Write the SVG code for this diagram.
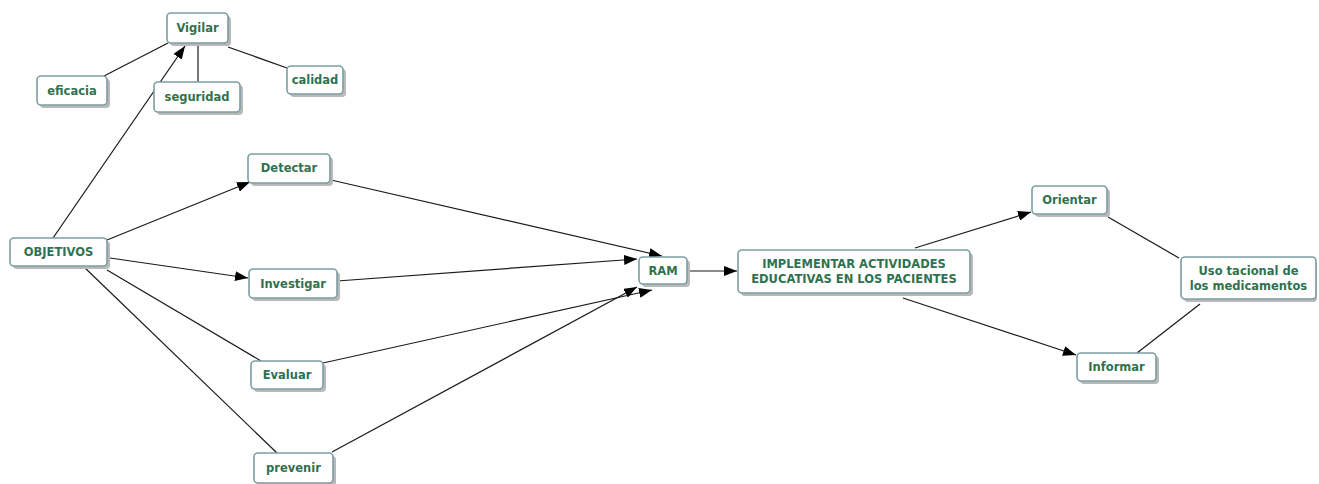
<svg xmlns="http://www.w3.org/2000/svg" width="1319" height="484" viewBox="0 0 1319 484">
<style>
.box{fill:#ffffff;stroke:#7c9ea3;stroke-width:1.6}
.sh{fill:#b9b9b9}
.t{font-family:"DejaVu Sans",Verdana,sans-serif;font-weight:bold;font-size:11.5px;fill:#2f7150;text-anchor:middle}
.c{stroke:#1a1a1a;stroke-width:1.2;fill:none}
.a{marker-end:url(#ah)}
</style>
<defs>
<marker id="ah" markerUnits="userSpaceOnUse" markerWidth="14" markerHeight="10" refX="13" refY="5" orient="auto">
<path d="M0,0 L13,5 L0,10 z" fill="#000"/>
</marker>
</defs>
<rect width="1319" height="484" fill="#ffffff"/>
<g id="connectors">
<line class="c" x1="104" y1="76" x2="168" y2="43"/>
<line class="c" x1="198" y1="43" x2="198" y2="82"/>
<line class="c" x1="228" y1="47" x2="287" y2="68"/>
<line class="c a" x1="53" y1="238" x2="185" y2="46"/>
<line class="c a" x1="107" y1="240" x2="250" y2="182"/>
<line class="c a" x1="110" y1="258" x2="248" y2="278"/>
<line class="c" x1="107" y1="270" x2="261" y2="361"/>
<line class="c" x1="83" y1="266" x2="277" y2="453"/>
<line class="c a" x1="331" y1="180" x2="662" y2="256"/>
<line class="c a" x1="337" y1="281" x2="637" y2="259"/>
<line class="c a" x1="323" y1="363" x2="652" y2="290"/>
<line class="c a" x1="332" y1="452" x2="637" y2="287"/>
<line class="c a" x1="687" y1="271" x2="737" y2="271"/>
<line class="c a" x1="915" y1="248" x2="1031" y2="212"/>
<line class="c a" x1="903" y1="298" x2="1076" y2="355"/>
<line class="c" x1="1108" y1="217" x2="1179" y2="258"/>
<line class="c" x1="1137" y1="353" x2="1200" y2="304"/>
</g>
<g id="vigilar"><rect class="sh" x="170" y="16" width="61" height="30" rx="4"/><rect class="box" x="167" y="13" width="61" height="30" rx="4"/><text class="t" x="197.5" y="32">Vigilar</text></g>
<g id="eficacia"><rect class="sh" x="40" y="79" width="70" height="29" rx="4"/><rect class="box" x="37" y="76" width="70" height="29" rx="4"/><text class="t" x="72" y="95">eficacia</text></g>
<g id="seguridad"><rect class="sh" x="157" y="85" width="86" height="30" rx="4"/><rect class="box" x="154" y="82" width="86" height="30" rx="4"/><text class="t" x="197" y="101">seguridad</text></g>
<g id="calidad"><rect class="sh" x="290" y="69" width="56" height="28" rx="4"/><rect class="box" x="287" y="66" width="56" height="28" rx="4"/><text class="t" x="315" y="84">calidad</text></g>
<g id="objetivos"><rect class="sh" x="13" y="241" width="97" height="28" rx="4"/><rect class="box" x="10" y="238" width="97" height="28" rx="4"/><text class="t" x="58.5" y="256">OBJETIVOS</text></g>
<g id="detectar"><rect class="sh" x="251" y="157" width="82" height="29" rx="4"/><rect class="box" x="248" y="154" width="82" height="29" rx="4"/><text class="t" x="289" y="172">Detectar</text></g>
<g id="investigar"><rect class="sh" x="252" y="272" width="88" height="29" rx="4"/><rect class="box" x="249" y="269" width="88" height="29" rx="4"/><text class="t" x="293" y="288">Investigar</text></g>
<g id="evaluar"><rect class="sh" x="254" y="364" width="72" height="28" rx="4"/><rect class="box" x="251" y="361" width="72" height="28" rx="4"/><text class="t" x="287" y="379">Evaluar</text></g>
<g id="prevenir"><rect class="sh" x="257" y="456" width="79" height="30" rx="4"/><rect class="box" x="254" y="453" width="79" height="30" rx="4"/><text class="t" x="293.5" y="472">prevenir</text></g>
<g id="ram"><rect class="sh" x="642" y="260" width="48" height="27" rx="4"/><rect class="box" x="639" y="257" width="48" height="27" rx="4"/><text class="t" x="663" y="275">RAM</text></g>
<g id="implementar"><rect class="sh" x="741" y="253" width="232" height="43" rx="4"/><rect class="box" x="738" y="250" width="232" height="43" rx="4"/><text class="t" x="854" y="268">IMPLEMENTAR ACTIVIDADES</text><text class="t" x="854" y="283">EDUCATIVAS EN LOS PACIENTES</text></g>
<g id="orientar"><rect class="sh" x="1035" y="189" width="75" height="28" rx="4"/><rect class="box" x="1032" y="186" width="75" height="28" rx="4"/><text class="t" x="1069.5" y="204">Orientar</text></g>
<g id="uso"><rect class="sh" x="1184" y="260" width="133" height="42" rx="4"/><rect class="box" x="1181" y="257" width="135" height="42" rx="4"/><text class="t" x="1248.5" y="275">Uso tacional de</text><text class="t" x="1248.5" y="290">los medicamentos</text></g>
<g id="informar"><rect class="sh" x="1080" y="356" width="79" height="28" rx="4"/><rect class="box" x="1077" y="353" width="79" height="28" rx="4"/><text class="t" x="1116.5" y="371">Informar</text></g>
</svg>
